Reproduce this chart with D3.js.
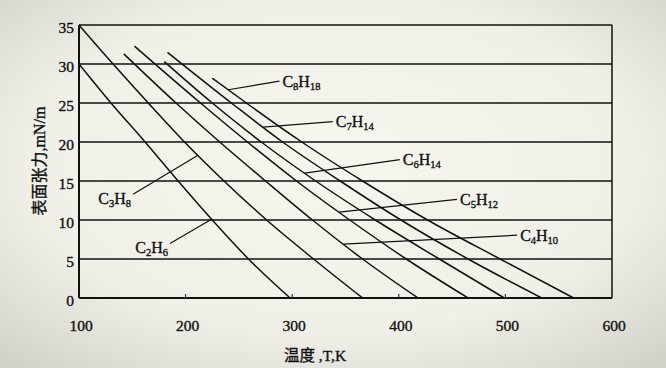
<!DOCTYPE html>
<html>
<head>
<meta charset="utf-8">
<script src="https://cdn.jsdelivr.net/npm/d3@7/dist/d3.min.js"></script>
<style>
  html, body { margin: 0; padding: 0; background: #ecebe3; }
  svg { display: block; }
</style>
</head>
<body>
<div id="chart"></div>
<script>
// temperature ticks (K) and surface tension ticks (mN/m)
const tempTicks = [100, 200, 300, 400, 500, 600];
const tensionTicks = [0, 5, 10, 15, 20, 25, 30, 35];

// curves: [T, sigma]
const C2H6  = [[100, 30], [130, 25], [162, 20], [193, 15], [225, 10], [259, 5], [298, 0]];
const C3H8  = [[100, 35], [132, 30], [165, 25], [199, 20], [236, 15], [276, 10], [320, 5], [366, 0]];
const C4H10 = [[142, 31.3], [191, 25], [232, 20], [275, 15], [319, 10], [366, 5], [418, 0]];
const C5H12 = [[152, 32.3], [214, 25], [258, 20], [304, 15], [354, 10], [407, 5], [465, 0]];
const C6H14 = [[180, 30.3], [225, 25], [271, 20], [322, 15], [378, 10], [438, 5], [499, 0]];
const C7H14 = [[183, 31.5], [243, 25], [291, 20], [345, 15], [402, 10], [465, 5], [534, 0]];
const C8H18 = [[225, 28.2], [257, 25], [309, 20], [366, 15], [427, 10], [495, 5], [564, 0]];

const series = [C2H6, C3H8, C4H10, C5H12, C6H14, C7H14, C8H18];

// labels: formula parts, curve, sigma where leader touches, leader end (T, sigma), text side
const labels = [
  { c: "C", n1: "8", h: "H", n2: "18", curve: C8H18, touch: 26.7, end: [288, 27.8], side: "right" },
  { c: "C", n1: "7", h: "H", n2: "14", curve: C7H14, touch: 21.9, end: [338, 22.6], side: "right" },
  { c: "C", n1: "6", h: "H", n2: "14", curve: C6H14, touch: 16.0, end: [401, 17.75], side: "right" },
  { c: "C", n1: "5", h: "H", n2: "12", curve: C5H12, touch: 11.0, end: [454.6, 12.65], side: "right" },
  { c: "C", n1: "4", h: "H", n2: "10", curve: C4H10, touch: 6.9, end: [511, 8.05], side: "right" },
  { c: "C", n1: "3", h: "H", n2: "8", curve: C3H8, touch: 18.3, end: [150.7, 13.3], side: "left" },
  { c: "C", n1: "2", h: "H", n2: "6", curve: C2H6, touch: 10.1, end: [185.4, 7.0], side: "left" }
];

const W = 666, H = 368;
const serif = "'Liberation Serif', 'DejaVu Serif', serif";
const cjk = "'Noto Sans CJK SC', 'Noto Sans', sans-serif";
const ink = "fill: #111; stroke: #111; stroke-width: 0.35px;";

const svg = d3.select("#chart").append("svg")
  .attr("width", W)
  .attr("height", H);

const bg = svg.append("defs").append("radialGradient")
  .attr("id", "bg")
  .attr("cx", "50%").attr("cy", "45%").attr("r", "75%");
bg.append("stop").attr("offset", "0").attr("stop-color", "#f6f5ee");
bg.append("stop").attr("offset", "0.6").attr("stop-color", "#f1f0e8");
bg.append("stop").attr("offset", "1").attr("stop-color", "#cfcfc8");

svg.append("rect")
  .attr("width", W).attr("height", H)
  .attr("fill", "url(#bg)");

const x = d3.scaleLinear().domain([100, 600]).range([79, 612]);
const y = d3.scaleLinear().domain([0, 35]).range([298, 25]);

// horizontal grid lines
svg.append("g").selectAll("line")
  .data(tensionTicks)
  .enter().append("line")
  .attr("x1", x(100)).attr("x2", x(600))
  .attr("y1", (d) => y(d)).attr("y2", (d) => y(d))
  .attr("stroke", "#111")
  .attr("stroke-width", (d) => d === 0 ? 2 : 1.3);

// frame sides
svg.append("line")
  .attr("x1", x(100)).attr("x2", x(100))
  .attr("y1", y(35)).attr("y2", y(0))
  .attr("stroke", "#111").attr("stroke-width", 2);
svg.append("line")
  .attr("x1", x(600)).attr("x2", x(600))
  .attr("y1", y(35)).attr("y2", y(0))
  .attr("stroke", "#111").attr("stroke-width", 1.5);

// small inner ticks on the bottom axis
svg.append("g").selectAll("line")
  .data(tempTicks.slice(1, -1))
  .enter().append("line")
  .attr("x1", (d) => x(d)).attr("x2", (d) => x(d))
  .attr("y1", y(0)).attr("y2", y(0) - 4)
  .attr("stroke", "#111").attr("stroke-width", 1);

// tick labels
svg.append("g").selectAll("text")
  .data(tensionTicks)
  .enter().append("text")
  .attr("x", 74)
  .attr("y", (d) => y(d) + 8)
  .attr("text-anchor", "end")
  .attr("style", "font-family: " + serif + "; font-size: 15.5px; " + ink)
  .text((d) => d);

svg.append("g").selectAll("text")
  .data(tempTicks)
  .enter().append("text")
  .attr("x", (d) => x(d) + 2)
  .attr("y", 331)
  .attr("text-anchor", "middle")
  .attr("style", "font-family: " + serif + "; font-size: 15.5px; " + ink)
  .text((d) => d);

// curves
const line = d3.line()
  .curve(d3.curveMonotoneX)
  .x((d) => x(d[0]))
  .y((d) => y(d[1]));

svg.append("g").selectAll("path")
  .data(series)
  .enter().append("path")
  .attr("d", (d) => line(d))
  .attr("fill", "none")
  .attr("stroke", "#111")
  .attr("stroke-width", 1.5);

// T on a curve for a given sigma (linear between read points)
const tAt = (curve, s) => {
  for (let i = 0; i < curve.length - 1; i++) {
    const a = curve[i], b = curve[i + 1];
    if (s <= a[1] && s >= b[1]) {
      return a[0] + (a[1] - s) / (a[1] - b[1]) * (b[0] - a[0]);
    }
  }
  return curve[0][0];
};

// leaders and formula labels
labels.forEach((l) => {
  const tx = x(tAt(l.curve, l.touch)), ty = y(l.touch);
  const ex = x(l.end[0]), ey = y(l.end[1]);
  svg.append("line")
    .attr("x1", tx).attr("y1", ty)
    .attr("x2", ex).attr("y2", ey)
    .attr("stroke", "#111").attr("stroke-width", 1.2);

  const t = svg.append("text")
    .attr("x", l.side === "right" ? ex + 3 : ex - 2)
    .attr("y", ey + (l.side === "right" ? 5.5 : 10))
    .attr("text-anchor", l.side === "right" ? "start" : "end")
    .attr("style", "font-family: " + serif + "; font-size: 16px; " + ink);
  t.append("tspan").text(l.c);
  t.append("tspan").attr("dy", 3).attr("style", "font-size: 10.5px;").text(l.n1);
  t.append("tspan").attr("dy", -3).text(l.h);
  t.append("tspan").attr("dy", 3).attr("style", "font-size: 10.5px;").text(l.n2);
});

// axis titles
svg.append("text")
  .attr("x", 315)
  .attr("y", 361)
  .attr("text-anchor", "middle")
  .attr("style", "font-size: 15.5px; " + ink)
  .call((t) => {
    t.append("tspan").attr("style", "font-family: " + cjk + ";").text("温度");
    t.append("tspan").attr("style", "font-family: " + serif + ";").text(" ,T,K");
  });

svg.append("text")
  .attr("transform", "translate(45,161) rotate(-90)")
  .attr("text-anchor", "middle")
  .attr("style", "font-size: 16px; " + ink)
  .call((t) => {
    t.append("tspan").attr("style", "font-family: " + cjk + ";").text("表面张力");
    t.append("tspan").attr("style", "font-family: " + serif + ";").text(",mN/m");
  });
</script>
</body>
</html>
